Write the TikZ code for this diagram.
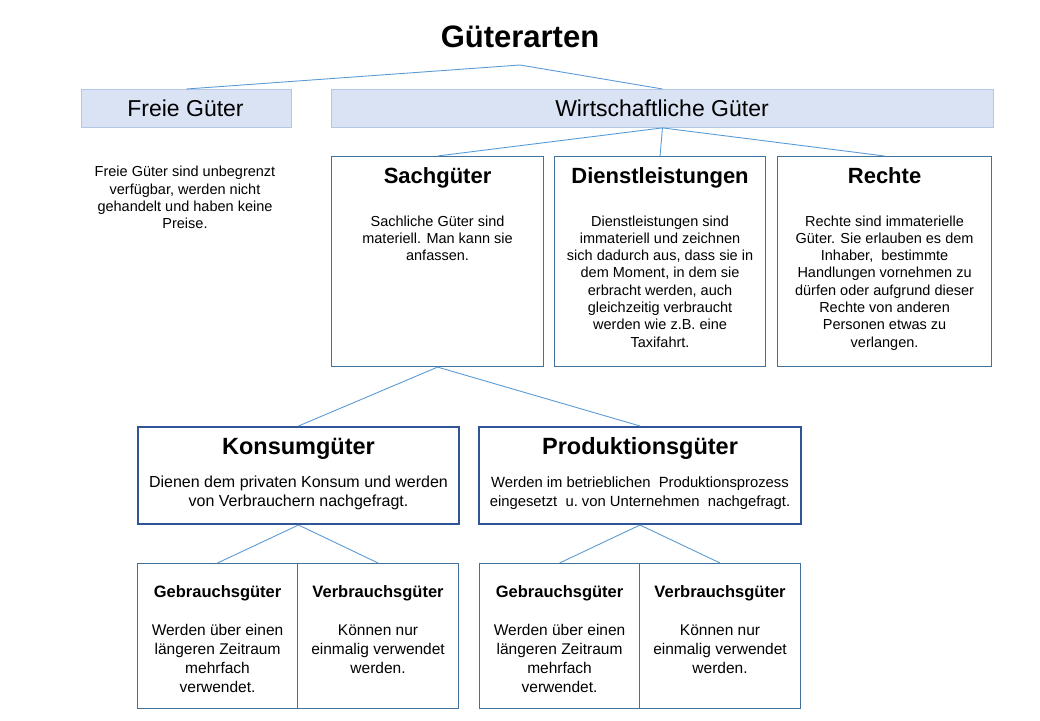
\documentclass[tikz,border=0pt]{standalone}
\usepackage{fontspec}
\setmainfont{Liberation Sans}
\definecolor{hdrfill}{HTML}{DAE3F3}
\definecolor{hdrline}{HTML}{B4C7E7}
\definecolor{boxline}{HTML}{41719C}
\definecolor{kline}{HTML}{2F5597}
\definecolor{connc}{HTML}{5B9BD5}
\begin{document}
\begin{tikzpicture}[x=1pt,y=-1pt,
  hdr/.style={draw=hdrline, fill=hdrfill, line width=0.9pt, inner sep=0, anchor=north west},
  sbox/.style={draw=boxline, line width=1.1pt, inner sep=0, anchor=north west},
  kbox/.style={draw=kline, line width=2pt, inner sep=0, anchor=north west},
  conn/.style={draw=connc, line width=0.9pt},
  ttl/.style={anchor=base, inner sep=0, font=\bfseries\fontsize{22}{26}\selectfont},
  kttl/.style={anchor=base, inner sep=0, font=\bfseries\fontsize{23.5}{28}\selectfont},
  subttl/.style={anchor=base, inner sep=0, font=\bfseries\fontsize{16.5}{20}\selectfont},
  hdrtxt/.style={anchor=base, inner sep=0, font=\fontsize{23}{27}\selectfont},
  dsc/.style={anchor=base, inner sep=0, align=center, font=\fontsize{14.5}{17.3}\selectfont},
  kdsc/.style={anchor=base, inner sep=0, align=center, font=\fontsize{16}{19}\selectfont},
  subdsc/.style={anchor=base, inner sep=0, align=center, font=\fontsize{15.5}{18.8}\selectfont}
]
\useasboundingbox (0,0) rectangle (1040,720);

% title
\node[anchor=base, inner sep=0, font=\bfseries\fontsize{31}{36}\selectfont] (title) at (520,47) {Güterarten};
\coordinate (tj) at (520,65);

% header boxes
\node[hdr, minimum width=210pt, minimum height=38pt] (freie) at (81,89) {};
\node[hdr, minimum width=662pt, minimum height=38pt] (wg) at (331,89) {};
\node[hdrtxt] (freiet) at (185.5,116) {Freie Güter};
\node[hdrtxt] (wgt) at (662,116) {Wirtschaftliche Güter};

\draw[conn] (tj) -- (freie.north);
\draw[conn] (tj) -- (wg.north);

% free goods description (anchor = baseline of last line)
\node[dsc] (freied) at (185,228.7) {Freie Güter sind unbegrenzt\\verfügbar, werden nicht\\gehandelt und haben keine\\Preise.};

% second level boxes
\node[sbox, minimum width=212pt, minimum height=210pt] (sach) at (331,156) {};
\node[sbox, minimum width=211pt, minimum height=210pt] (dienst) at (554,156) {};
\node[sbox, minimum width=214pt, minimum height=210pt] (rechte) at (777,156) {};

\node[ttl] (sacht) at (sach.center |- 0,183) {Sachgüter};
\node[ttl] (dienstt) at (dienst.center |- 0,183) {Dienstleistungen};
\node[ttl] (rechtet) at (rechte.center |- 0,183) {Rechte};

\node[dsc] (sachd) at (sach.center |- 0,260.6) {Sachliche Güter sind\\materiell. Man kann sie\\anfassen.};
\node[dsc] (diensd) at (dienst.center |- 0,347.1) {Dienstleistungen sind\\immateriell und zeichnen\\sich dadurch aus, dass sie in\\dem Moment, in dem sie\\erbracht werden, auch\\gleichzeitig verbraucht\\werden wie z.B. eine\\Taxifahrt.};
\node[dsc] (rechted) at (rechte.center |- 0,347.1) {Rechte sind immaterielle\\Güter. Sie erlauben es dem\\Inhaber,\ \ bestimmte\\Handlungen vornehmen zu\\dürfen oder aufgrund dieser\\Rechte von anderen\\Personen etwas zu\\verlangen.};

\draw[conn] (wg.south) -- (sach.north);
\draw[conn] (wg.south) -- (dienst.north);
\draw[conn] (wg.south) -- (rechte.north);

% third level
\node[kbox, minimum width=321pt, minimum height=97pt] (konsum) at (137,426) {};
\node[kbox, minimum width=322pt, minimum height=97pt] (prod) at (478,426) {};

\node[kttl] (konsumt) at (konsum.center |- 0,454) {Konsumgüter};
\node[kttl] (prodt) at (prod.center |- 0,454) {Produktionsgüter};
\node[kdsc] (konsumd) at (konsum.center |- 0,506.5) {Dienen dem privaten Konsum und werden\\von Verbrauchern nachgefragt.};
\node[kdsc, font=\fontsize{14.8}{19}\selectfont] (prodd) at (prod.center |- 0,506.5) {Werden im betrieblichen\ \ Produktionsprozess\\eingesetzt\ \ u.\ von Unternehmen\ \ nachgefragt.};

\draw[conn] (sach.south) -- (konsum.north);
\draw[conn] (sach.south) -- (prod.north);

% fourth level
\node[sbox, minimum width=160pt, minimum height=145pt] (geb1) at (137,563) {};
\node[sbox, minimum width=161pt, minimum height=145pt] (ver1) at (297,563) {};
\node[sbox, minimum width=160pt, minimum height=145pt] (geb2) at (479,563) {};
\node[sbox, minimum width=161pt, minimum height=145pt] (ver2) at (639,563) {};

\foreach \b in {geb1,geb2} {
  \node[subttl] (\b t) at (\b.center |- 0,597.3) {Gebrauchsgüter};
  \node[subdsc] (\b d) at (\b.center |- 0,692.1) {Werden über einen\\längeren Zeitraum\\mehrfach\\verwendet.};
}
\foreach \b in {ver1,ver2} {
  \node[subttl] (\b t) at (\b.center |- 0,597.3) {Verbrauchsgüter};
  \node[subdsc] (\b d) at (\b.center |- 0,673.3) {Können nur\\einmalig verwendet\\werden.};
}

\draw[conn] (konsum.south) -- (geb1.north);
\draw[conn] (konsum.south) -- (ver1.north);
\draw[conn] (prod.south) -- (geb2.north);
\draw[conn] (prod.south) -- (ver2.north);
\end{tikzpicture}
\end{document}
